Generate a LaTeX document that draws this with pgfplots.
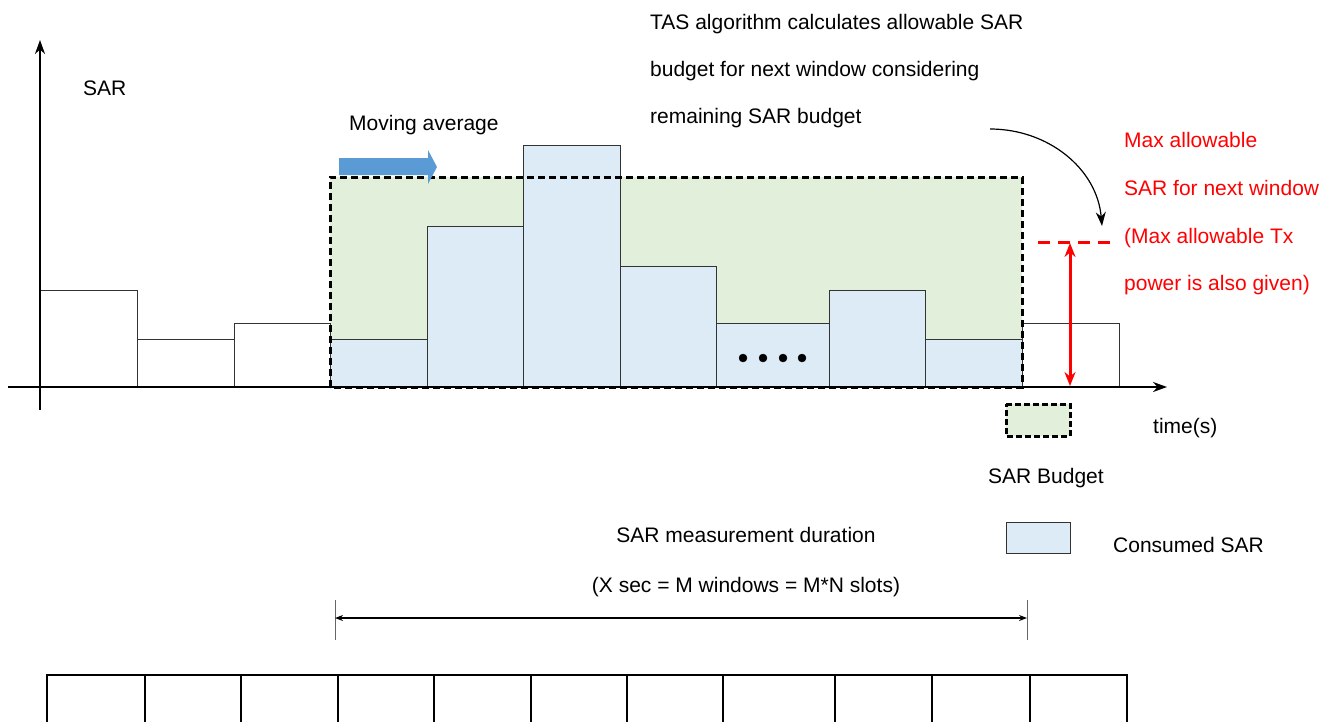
\documentclass[border=0pt]{standalone}
\usepackage{fontspec}
\setmainfont{Liberation Sans}
\usepackage{pgfplots}
\pgfplotsset{compat=1.18}
\usetikzlibrary{arrows.meta}
\definecolor{budget}{HTML}{E2EFDA}
\definecolor{consumed}{HTML}{DDEBF7}
\definecolor{arrowblue}{HTML}{5B9BD5}
\begin{document}
\begin{tikzpicture}[font=\fontsize{21}{25}\selectfont]
\begin{axis}[scale only axis, width=1337pt, height=722pt,
  xmin=0, xmax=1337, ymin=0, ymax=722, y dir=reverse,
  hide axis, clip=false]
\path (axis cs:0,0) rectangle (axis cs:1337,722);
% SAR budget area
\addplot[fill=budget, draw=none] coordinates {(330,387) (330,177) (1022,177) (1022,387) (330,387)};
% consumed SAR bars (inside window)
\addplot[fill=consumed, draw=black!80, line width=1pt] coordinates {(330,387) (330,339) (427,339) (427,387) (330,387)};
\addplot[fill=consumed, draw=black!80, line width=1pt] coordinates {(427,387) (427,226) (523,226) (523,387) (427,387)};
\addplot[fill=consumed, draw=black!80, line width=1pt] coordinates {(523,387) (523,145) (620,145) (620,387) (523,387)};
\addplot[fill=consumed, draw=black!80, line width=1pt] coordinates {(620,387) (620,266) (716,266) (716,387) (620,387)};
\addplot[fill=consumed, draw=black!80, line width=1pt] coordinates {(716,387) (716,323) (829,323) (829,387) (716,387)};
\addplot[fill=consumed, draw=black!80, line width=1pt] coordinates {(829,387) (829,290) (925,290) (925,387) (829,387)};
\addplot[fill=consumed, draw=black!80, line width=1pt] coordinates {(925,387) (925,339) (1022,339) (1022,387) (925,387)};
% white bars outside window
\addplot[fill=white, draw=black!80, line width=1pt] coordinates {(40,387) (40,290) (137,290) (137,387) (40,387)};
\addplot[fill=white, draw=black!80, line width=1pt] coordinates {(137,387) (137,339) (234,339) (234,387) (137,387)};
\addplot[fill=white, draw=black!80, line width=1pt] coordinates {(234,387) (234,323) (330,323) (330,387) (234,387)};
\addplot[fill=white, draw=black!80, line width=1pt] coordinates {(1022,387) (1022,323) (1119,323) (1119,387) (1022,387)};
% dashed window border
\addplot[draw=black, line width=3pt, dash pattern=on 7pt off 4pt] coordinates {(330,387) (330,177) (1022,177) (1022,387) (330,387)};
% dots
\addplot[only marks, mark=*, mark size=4pt, black] coordinates {(743,358) (763,358) (783,358) (802,358)};
% moving average arrow
\addplot[fill=arrowblue, draw=none] coordinates {(339,158) (428,158) (428,150) (437,167) (428,184) (428,175) (339,175) (339,158)};
% axes
\draw[line width=2pt, -{Stealth[length=14pt,width=10pt]}] (axis cs:8,387) -- (axis cs:1167,387);
\draw[line width=2pt, -{Stealth[length=14pt,width=10pt]}] (axis cs:40,410) -- (axis cs:40,40);
% red marker
\addplot[draw=red, line width=3pt, dash pattern=on 12pt off 8pt] coordinates {(1038,242) (1111,242)};
\draw[red, line width=3pt, {Stealth[length=14pt,width=11pt]}-{Stealth[length=14pt,width=11pt]}] (axis cs:1070,243) -- (axis cs:1070,386);
% curved arrow
\draw[line width=1.2pt, -{Stealth[length=14pt,width=10pt]}] (axis cs:990,129) to[out=0, in=95] (axis cs:1102,226);
% legend boxes
\addplot[fill=budget, draw=black, line width=3pt, dash pattern=on 6pt off 3pt] coordinates {(1006,404) (1070,404) (1070,436) (1006,436) (1006,404)};
\addplot[fill=consumed, draw=black!80, line width=1pt] coordinates {(1006,522) (1070,522) (1070,553) (1006,553) (1006,522)};
% texts
\begin{scope}[every node/.style={inner sep=0pt}]
\node[anchor=base west] at (axis cs:83,95) {SAR};
\node[anchor=base west] at (axis cs:349,130) {Moving average};
\node[anchor=base west] at (axis cs:650,29) {TAS algorithm calculates allowable SAR};
\node[anchor=base west] at (axis cs:650,76) {budget for next window considering};
\node[anchor=base west] at (axis cs:650,123) {remaining SAR budget};
\node[anchor=base west, text=red] at (axis cs:1124,147) {Max allowable};
\node[anchor=base west, text=red] at (axis cs:1124,195) {SAR for next window};
\node[anchor=base west, text=red] at (axis cs:1124,243) {(Max allowable Tx};
\node[anchor=base west, text=red] at (axis cs:1124,290) {power is also given)};
\node[anchor=base west] at (axis cs:1153,433) {time(s)};
\node[anchor=base west] at (axis cs:988,483) {SAR Budget};
\node[anchor=base west] at (axis cs:1113,552) {Consumed SAR};
\node[anchor=base] at (axis cs:746,542) {SAR measurement duration};
\node[anchor=base] at (axis cs:746,592) {(X sec = M windows = M*N slots)};
\end{scope}
% measurement duration dimension
\draw[black!60, line width=1pt] (axis cs:335,600) -- (axis cs:335,640);
\draw[black!60, line width=1pt] (axis cs:1027,600) -- (axis cs:1027,640);
\draw[line width=1.5pt, {Stealth[length=8pt,width=6pt]}-{Stealth[length=8pt,width=6pt]}] (axis cs:335,618) -- (axis cs:1027,618);
% slots
\draw[line width=2.5pt] (axis cs:46,675) -- (axis cs:1128,675);
\pgfplotsinvokeforeach{47,145,241,338,434,531,627,723,835,932,1030,1127}{
  \draw[line width=2pt] (axis cs:#1,675) -- (axis cs:#1,722);
}
\end{axis}
\end{tikzpicture}
\end{document}
